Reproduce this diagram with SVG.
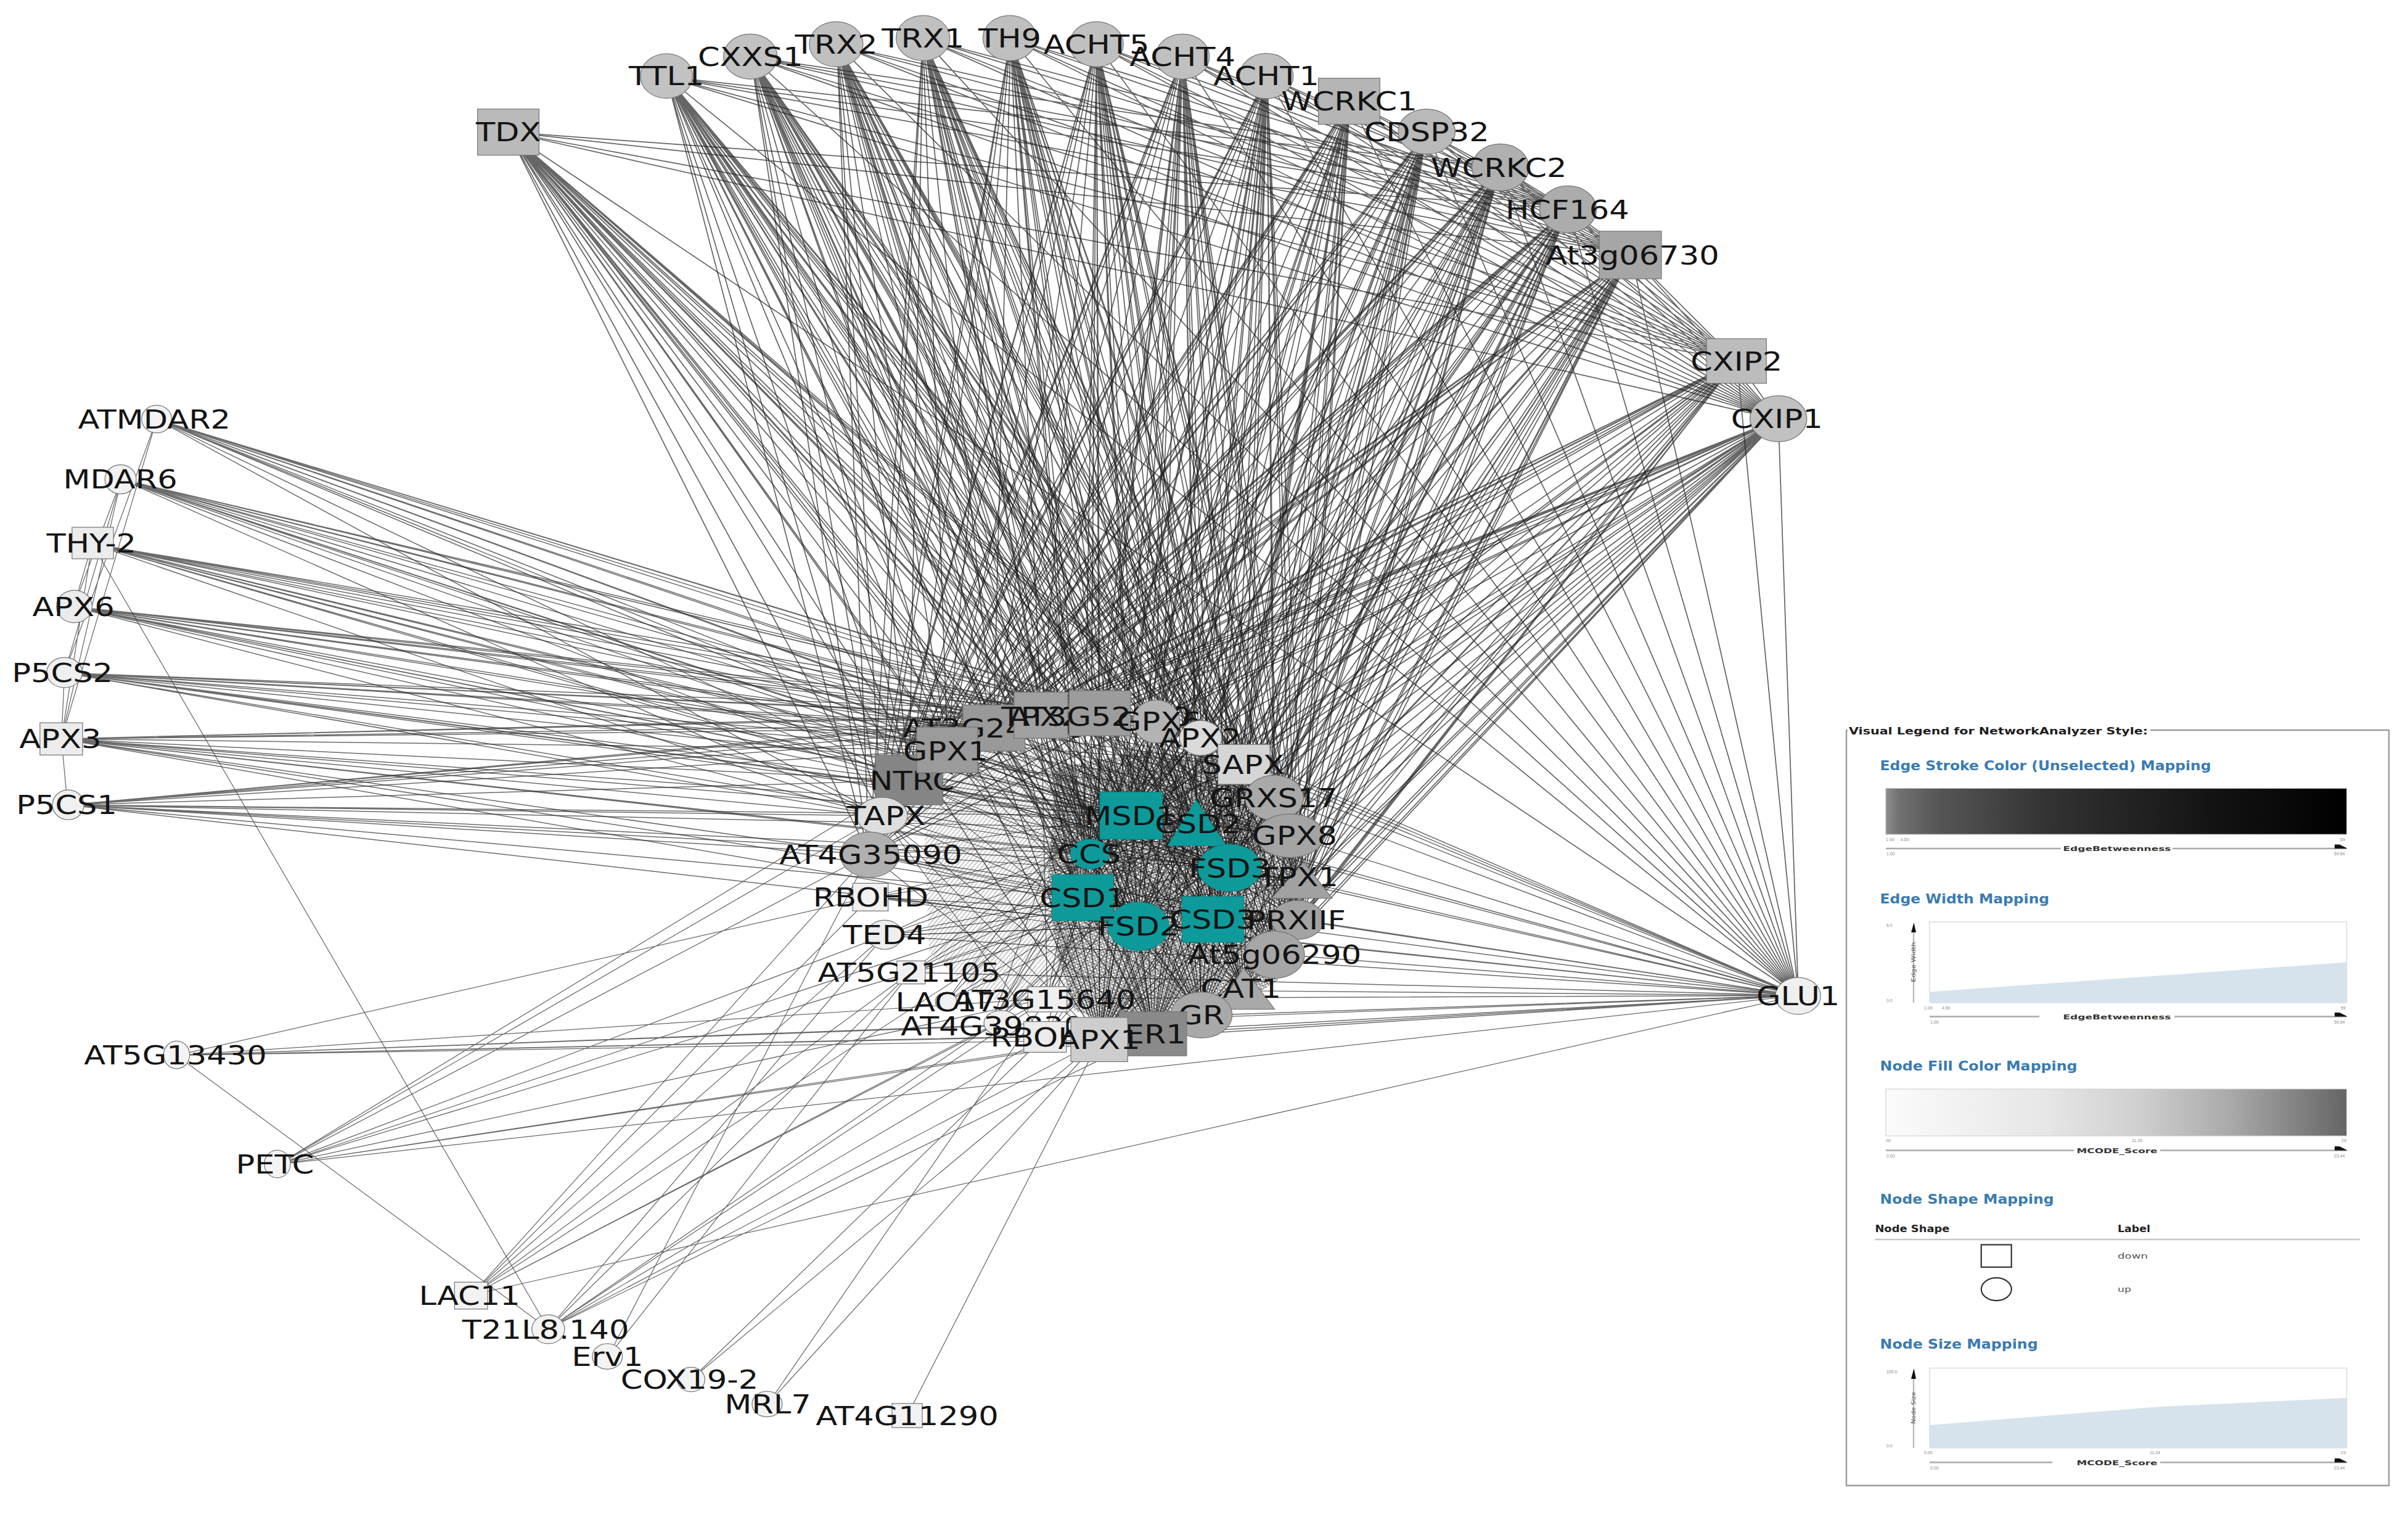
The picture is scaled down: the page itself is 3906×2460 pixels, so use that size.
<svg xmlns="http://www.w3.org/2000/svg" width="3906" height="2460" viewBox="0 0 3906 2460">
<defs>
<style>
.n{stroke:#777;stroke-width:0.5}
.tl{fill:#0e9a9a;stroke:#0a8585;stroke-width:0.4}
.l{font-family:"DejaVu Sans","Liberation Sans",sans-serif;font-size:16.8px;fill:#141414;text-anchor:middle;transform-box:fill-box;transform-origin:center;transform:scaleX(1.22)}
.e1{fill:none;stroke:#1e1e1e;stroke-width:0.7;stroke-opacity:0.68}
.e2{fill:none;stroke:#333;stroke-width:0.6;stroke-opacity:0.72}
.e3{fill:none;stroke:#444;stroke-width:0.5;stroke-opacity:0.8}
.e4{fill:none;stroke:#111;stroke-width:0.45;stroke-opacity:0.7}
.lg{font-family:"DejaVu Sans","Liberation Sans",sans-serif}
.lt{font-family:"DejaVu Sans","Liberation Sans",sans-serif;font-weight:bold;fill:#3a7bb0;font-size:22px}
.lh{font-family:"DejaVu Sans","Liberation Sans",sans-serif;font-weight:bold;fill:#222;font-size:15px}
.ls{font-family:"DejaVu Sans","Liberation Sans",sans-serif;fill:#555;font-size:13px}
.lx{font-family:"DejaVu Sans","Liberation Sans",sans-serif;font-weight:bold;fill:#333;font-size:11px;text-anchor:middle}
.tn{font-family:"Liberation Sans",sans-serif;fill:#888;font-size:7px}
.ax{stroke:#aaa;stroke-width:2.5;fill:none}
</style>
<linearGradient id="gE" x1="0" y1="0" x2="1" y2="0">
<stop offset="0" stop-color="#8e8e8e"/><stop offset="0.03" stop-color="#707070"/><stop offset="0.12" stop-color="#555"/><stop offset="0.35" stop-color="#333"/><stop offset="0.7" stop-color="#141414"/><stop offset="1" stop-color="#000"/>
</linearGradient>
<linearGradient id="gF" x1="0" y1="0" x2="1" y2="0">
<stop offset="0" stop-color="#fbfbfb"/><stop offset="0.35" stop-color="#e6e6e6"/><stop offset="0.55" stop-color="#cfcfcf"/><stop offset="0.75" stop-color="#a9a9a9"/><stop offset="1" stop-color="#656565"/>
</linearGradient>
<pattern id="hx" width="2.4" height="2.4" patternUnits="userSpaceOnUse" patternTransform="rotate(25)"><path d="M0 0L2.4 2.4M2.4 0L0 2.4M0 1.2H2.4" stroke="#141414" stroke-width="0.3" fill="none"/></pattern>
<pattern id="hy" width="2.2" height="2.2" patternUnits="userSpaceOnUse" patternTransform="rotate(-50)"><path d="M0 1.1H2.2" stroke="#2a2a2a" stroke-width="0.3" fill="none"/></pattern>
</defs>
<rect width="3906" height="2460" fill="#fff"/>
<g id="network" transform="scale(2.4911)">
<g id="edges">
<path class="e1" d="M331 86L617 488M331 86L592 508M331 86L647 474M331 86L678 466M331 86L716 464M331 86L751 470M331 86L782 480M331 86L810 498M331 86L830 519M331 86L840 544M331 86L849 574M331 86L845 599M331 86L830 621M331 86L810 645M331 86L782 661M331 86L751 673M331 86L716 677M331 86L574 531M331 86L736 531M331 86L779 540M331 86L801 565M331 86L705 584M331 86L741 603M331 86L790 598M331 86L710 556M331 86L566 556"/>
<path class="e1" d="M434 50L617 488M434 50L592 508M434 50L647 474M434 50L678 466M434 50L716 464M434 50L751 470M434 50L782 480M434 50L810 498M434 50L830 519M434 50L840 544M434 50L849 574M434 50L845 599M434 50L830 621M434 50L810 645M434 50L782 661M434 50L751 673M434 50L716 677M434 50L574 531M434 50L736 531M434 50L779 540M434 50L801 565M434 50L705 584M434 50L741 603M434 50L790 598M434 50L710 556M434 50L566 556"/>
<path class="e1" d="M489 37L617 488M489 37L592 508M489 37L647 474M489 37L678 466M489 37L716 464M489 37L751 470M489 37L782 480M489 37L810 498M489 37L830 519M489 37L840 544M489 37L849 574M489 37L845 599M489 37L830 621M489 37L810 645M489 37L782 661M489 37L751 673M489 37L716 677M489 37L574 531M489 37L736 531M489 37L779 540M489 37L801 565M489 37L705 584M489 37L741 603M489 37L790 598M489 37L710 556M489 37L566 556"/>
<path class="e1" d="M545 29L617 488M545 29L592 508M545 29L647 474M545 29L678 466M545 29L716 464M545 29L751 470M545 29L782 480M545 29L810 498M545 29L830 519M545 29L840 544M545 29L849 574M545 29L845 599M545 29L830 621M545 29L810 645M545 29L782 661M545 29L751 673M545 29L716 677M545 29L574 531M545 29L736 531M545 29L779 540M545 29L801 565M545 29L705 584M545 29L741 603M545 29L790 598M545 29L710 556M545 29L566 556"/>
<path class="e1" d="M601 25L617 488M601 25L592 508M601 25L647 474M601 25L678 466M601 25L716 464M601 25L751 470M601 25L782 480M601 25L810 498M601 25L830 519M601 25L840 544M601 25L849 574M601 25L845 599M601 25L830 621M601 25L810 645M601 25L782 661M601 25L751 673M601 25L716 677M601 25L574 531M601 25L736 531M601 25L779 540M601 25L801 565M601 25L705 584M601 25L741 603M601 25L790 598M601 25L710 556M601 25L566 556"/>
<path class="e1" d="M658 25L617 488M658 25L592 508M658 25L647 474M658 25L678 466M658 25L716 464M658 25L751 470M658 25L782 480M658 25L810 498M658 25L830 519M658 25L840 544M658 25L849 574M658 25L845 599M658 25L830 621M658 25L810 645M658 25L782 661M658 25L751 673M658 25L716 677M658 25L574 531M658 25L736 531M658 25L779 540M658 25L801 565M658 25L705 584M658 25L741 603M658 25L790 598M658 25L710 556M658 25L566 556"/>
<path class="e1" d="M714 29L617 488M714 29L592 508M714 29L647 474M714 29L678 466M714 29L716 464M714 29L751 470M714 29L782 480M714 29L810 498M714 29L830 519M714 29L840 544M714 29L849 574M714 29L845 599M714 29L830 621M714 29L810 645M714 29L782 661M714 29L751 673M714 29L716 677M714 29L574 531M714 29L736 531M714 29L779 540M714 29L801 565M714 29L705 584M714 29L741 603M714 29L790 598M714 29L710 556M714 29L566 556"/>
<path class="e1" d="M770 37L617 488M770 37L592 508M770 37L647 474M770 37L678 466M770 37L716 464M770 37L751 470M770 37L782 480M770 37L810 498M770 37L830 519M770 37L840 544M770 37L849 574M770 37L845 599M770 37L830 621M770 37L810 645M770 37L782 661M770 37L751 673M770 37L716 677M770 37L574 531M770 37L736 531M770 37L779 540M770 37L801 565M770 37L705 584M770 37L741 603M770 37L790 598M770 37L710 556M770 37L566 556"/>
<path class="e1" d="M825 50L617 488M825 50L592 508M825 50L647 474M825 50L678 466M825 50L716 464M825 50L751 470M825 50L782 480M825 50L810 498M825 50L830 519M825 50L840 544M825 50L849 574M825 50L845 599M825 50L830 621M825 50L810 645M825 50L782 661M825 50L751 673M825 50L716 677M825 50L574 531M825 50L736 531M825 50L779 540M825 50L801 565M825 50L705 584M825 50L741 603M825 50L790 598M825 50L710 556M825 50L566 556"/>
<path class="e1" d="M879 66L617 488M879 66L592 508M879 66L647 474M879 66L678 466M879 66L716 464M879 66L751 470M879 66L782 480M879 66L810 498M879 66L830 519M879 66L840 544M879 66L849 574M879 66L845 599M879 66L830 621M879 66L810 645M879 66L782 661M879 66L751 673M879 66L716 677M879 66L574 531M879 66L736 531M879 66L779 540M879 66L801 565M879 66L705 584M879 66L741 603M879 66L790 598M879 66L710 556M879 66L566 556"/>
<path class="e1" d="M929 86L617 488M929 86L592 508M929 86L647 474M929 86L678 466M929 86L716 464M929 86L751 470M929 86L782 480M929 86L810 498M929 86L830 519M929 86L840 544M929 86L849 574M929 86L845 599M929 86L830 621M929 86L810 645M929 86L782 661M929 86L751 673M929 86L716 677M929 86L574 531M929 86L736 531M929 86L779 540M929 86L801 565M929 86L705 584M929 86L741 603M929 86L790 598M929 86L710 556M929 86L566 556"/>
<path class="e1" d="M977 109L617 488M977 109L592 508M977 109L647 474M977 109L678 466M977 109L716 464M977 109L751 470M977 109L782 480M977 109L810 498M977 109L830 519M977 109L840 544M977 109L849 574M977 109L845 599M977 109L830 621M977 109L810 645M977 109L782 661M977 109L751 673M977 109L716 677M977 109L574 531M977 109L736 531M977 109L779 540M977 109L801 565M977 109L705 584M977 109L741 603M977 109L790 598M977 109L710 556M977 109L566 556"/>
<path class="e1" d="M1021 136L617 488M1021 136L592 508M1021 136L647 474M1021 136L678 466M1021 136L716 464M1021 136L751 470M1021 136L782 480M1021 136L810 498M1021 136L830 519M1021 136L840 544M1021 136L849 574M1021 136L845 599M1021 136L830 621M1021 136L810 645M1021 136L782 661M1021 136L751 673M1021 136L716 677M1021 136L574 531M1021 136L736 531M1021 136L779 540M1021 136L801 565M1021 136L705 584M1021 136L741 603M1021 136L790 598M1021 136L710 556M1021 136L566 556"/>
<path class="e1" d="M1062 166L617 488M1062 166L592 508M1062 166L647 474M1062 166L678 466M1062 166L716 464M1062 166L751 470M1062 166L782 480M1062 166L810 498M1062 166L830 519M1062 166L840 544M1062 166L849 574M1062 166L845 599M1062 166L830 621M1062 166L810 645M1062 166L782 661M1062 166L751 673M1062 166L716 677M1062 166L574 531M1062 166L736 531M1062 166L779 540M1062 166L801 565M1062 166L705 584M1062 166L741 603M1062 166L790 598M1062 166L710 556M1062 166L566 556"/>
<path class="e1" d="M1131 235L617 488M1131 235L592 508M1131 235L647 474M1131 235L678 466M1131 235L716 464M1131 235L751 470M1131 235L782 480M1131 235L810 498M1131 235L830 519M1131 235L840 544M1131 235L849 574M1131 235L845 599M1131 235L830 621M1131 235L810 645M1131 235L782 661M1131 235L751 673M1131 235L716 677M1131 235L574 531M1131 235L736 531M1131 235L779 540M1131 235L801 565M1131 235L705 584M1131 235L741 603M1131 235L790 598M1131 235L710 556M1131 235L566 556"/>
<path class="e1" d="M1158 273L617 488M1158 273L592 508M1158 273L647 474M1158 273L678 466M1158 273L716 464M1158 273L751 470M1158 273L782 480M1158 273L810 498M1158 273L830 519M1158 273L840 544M1158 273L849 574M1158 273L845 599M1158 273L830 621M1158 273L810 645M1158 273L782 661M1158 273L751 673M1158 273L716 677M1158 273L574 531M1158 273L736 531M1158 273L779 540M1158 273L801 565M1158 273L705 584M1158 273L741 603M1158 273L790 598M1158 273L710 556M1158 273L566 556"/>
<path class="e1" d="M331 86L1171 648M331 86L1131 235M331 86L1158 273M331 86L1062 166M331 86L1021 136M434 50L1171 648M434 50L1131 235M434 50L1158 273M434 50L1062 166M434 50L1021 136M434 50L977 109M489 37L1171 648M489 37L1131 235M489 37L1158 273M489 37L1062 166M489 37L1021 136M489 37L977 109M545 29L1171 648M545 29L1131 235M545 29L1158 273M545 29L1062 166M545 29L1021 136M601 25L1171 648M601 25L1131 235M601 25L1158 273M601 25L1062 166M601 25L1021 136M658 25L1171 648M658 25L1131 235M658 25L1158 273M658 25L1062 166M658 25L1021 136M714 29L1171 648M714 29L1131 235M714 29L1158 273M714 29L1062 166M714 29L1021 136M770 37L1171 648M770 37L1131 235M770 37L1158 273M770 37L1062 166M770 37L1021 136M825 50L1171 648M825 50L1131 235M825 50L1158 273M825 50L1062 166M825 50L1021 136M879 66L1171 648M879 66L1131 235M879 66L1158 273M879 66L1062 166M879 66L1021 136M929 86L1171 648M929 86L1131 235M929 86L1158 273M929 86L1062 166M929 86L1021 136M977 109L1171 648M977 109L1131 235M977 109L1158 273M977 109L1062 166M977 109L1021 136M1021 136L1171 648M1021 136L1131 235M1021 136L1158 273M1021 136L1062 166M1062 166L1171 648M1062 166L1131 235M1062 166L1158 273M1131 235L1171 648M1131 235L1158 273M1158 273L1171 648"/>
<path class="e2" d="M102 273L617 488M102 273L592 508M102 273L647 474M102 273L678 466M102 273L716 464M102 273L751 470M102 273L782 480M102 273L810 498M102 273L830 519M102 273L840 544M102 273L736 531M102 273L779 540M102 273L574 531M102 273L801 565"/>
<path class="e2" d="M79 312L617 488M79 312L592 508M79 312L647 474M79 312L678 466M79 312L716 464M79 312L751 470M79 312L782 480M79 312L810 498M79 312L830 519M79 312L840 544M79 312L736 531M79 312L779 540M79 312L574 531M79 312L801 565"/>
<path class="e2" d="M60 354L617 488M60 354L592 508M60 354L647 474M60 354L678 466M60 354L716 464M60 354L751 470M60 354L782 480M60 354L810 498M60 354L830 519M60 354L840 544M60 354L736 531M60 354L779 540M60 354L574 531M60 354L801 565"/>
<path class="e2" d="M48 395L617 488M48 395L592 508M48 395L647 474M48 395L678 466M48 395L716 464M48 395L751 470M48 395L782 480M48 395L810 498M48 395L830 519M48 395L840 544M48 395L736 531M48 395L779 540M48 395L574 531M48 395L801 565"/>
<path class="e2" d="M42 438L617 488M42 438L592 508M42 438L647 474M42 438L678 466M42 438L716 464M42 438L751 470M42 438L782 480M42 438L810 498M42 438L830 519M42 438L840 544M42 438L736 531M42 438L779 540M42 438L574 531M42 438L801 565"/>
<path class="e2" d="M40 481L617 488M40 481L592 508M40 481L647 474M40 481L678 466M40 481L716 464M40 481L751 470M40 481L736 531M40 481L779 540M40 481L574 531M40 481L566 556M40 481L705 584M40 481L710 556M40 481L801 565M40 481L741 603"/>
<path class="e2" d="M44 524L617 488M44 524L592 508M44 524L647 474M44 524L678 466M44 524L716 464M44 524L751 470M44 524L736 531M44 524L779 540M44 524L574 531M44 524L566 556M44 524L705 584M44 524L710 556M44 524L801 565M44 524L741 603"/>
<path class="e2" d="M1171 648L810 498M1171 648L830 519M1171 648L840 544M1171 648L849 574M1171 648L845 599M1171 648L830 621M1171 648L810 645M1171 648L782 661M1171 648L751 673M1171 648L716 677M1171 648L680 675M1171 648L801 565M1171 648L790 598M1171 648L741 603M1171 648L779 540M1171 648L782 480M1171 648L751 470M1171 648L682 650M1171 648L566 556M1171 648L576 609M1171 648L593 633M1171 648L567 584M1171 648L716 464M1171 648L736 531"/>
<path class="e3" d="M102 273L40 481M102 273L42 438M79 312L40 481M79 312L42 438M60 354L48 395M60 354L40 481M42 438L40 481M40 481L44 524M48 395L79 312M60 354L357 865M115 687L357 865"/>
<path class="e3" d="M181 758L592 508M181 758L566 556M181 758L574 531M181 758L576 609M181 758L593 633M181 758L682 650M181 758L716 677M181 758L705 584M181 758L1171 648M181 758L751 673M115 687L680 675M115 687L716 677M115 687L751 673M115 687L645 668M115 687L682 650M115 687L567 584M115 687L1171 648"/>
<path class="e3" d="M307 843L576 609M307 843L593 633M307 843L566 556M307 843L567 584M307 843L682 650M307 843L705 584M307 843L1171 648M307 843L645 668M357 865L682 650M357 865L680 675M357 865L716 677M357 865L645 668M357 865L593 633M357 865L576 609M357 865L751 673M396 883L593 633M396 883L566 556M450 898L716 677M450 898L680 675M500 914L682 650M500 914L716 677M591 921L716 677"/>
<path class="e4" d="M617 488L840 544L592 508L849 574L647 474L845 599L678 466L830 621L716 464L810 645L751 470L782 661L782 480L751 673L810 498L716 677L830 519L680 675L574 531L849 574L566 556L840 544L567 584L830 519L576 609L810 498L593 633L782 480L616 652L751 470L645 668L716 464L682 650L678 466"/>
<path class="e4" d="M736 531L790 598L705 584L779 540L741 603L801 565L710 556L790 598M736 531L741 603M779 540L705 584M801 565L736 531L710 556L779 540L617 488L801 565L592 508L790 598L647 474L741 603L678 466L705 584L830 519L710 556L840 544L736 531L845 599L705 584L810 645L779 540L782 661L710 556L751 673L801 565L716 677L736 531L566 556L790 598L574 531L741 603L576 609L801 565L593 633L779 540L645 668L736 531"/>
<path class="e4" d="M592 508L782 661L617 488L810 645L647 474L751 673L574 531L716 677L566 556L830 621L567 584L845 599L576 609L849 574L593 633L840 544L616 652L830 519L645 668L810 498L680 675L782 480L682 650L751 470L716 677L716 464L751 673L678 466L782 661L647 474L810 645L617 488L830 621"/>
<path class="e4" d="M736 531L751 470M736 531L782 480M736 531L810 498M736 531L678 466M779 540L716 464M779 540L751 470M779 540L810 498M801 565L830 519M801 565L840 544M801 565L849 574M790 598L845 599M790 598L830 621M790 598L810 645M741 603L782 661M741 603L751 673M741 603L716 677M705 584L680 675M705 584L682 650M710 556L645 668M705 584L566 556M710 556L592 508"/>
<path d="M688 500L750 488L805 500L838 535L850 590L832 638L795 662L740 670L700 658L688 620L682 575Z" fill="url(#hx)" opacity="0.85"/>
<path d="M600 495L700 480L700 655L640 650L605 620Z" fill="url(#hy)" opacity="0.65"/>
</g>
<g id="n-TDX"><rect class="n" x="311" y="71" width="40" height="30" fill="#bababa"/><text class="l" x="331" y="92.1">TDX</text></g>
<g id="n-TTL1"><ellipse class="n" cx="434" cy="49.5" rx="17" ry="14.5" fill="#c2c2c2"/><text class="l" x="434" y="55.6">TTL1</text></g>
<g id="n-CXXS1"><ellipse class="n" cx="488.6" cy="36.8" rx="17.5" ry="14.7" fill="#c2c2c2"/><text class="l" x="488.6" y="42.9">CXXS1</text></g>
<g id="n-TRX2"><ellipse class="n" cx="544.5" cy="28.8" rx="17.5" ry="14.7" fill="#c0c0c0"/><text class="l" x="544.5" y="34.9">TRX2</text></g>
<g id="n-TRX1"><ellipse class="n" cx="601" cy="24.8" rx="17.5" ry="14.7" fill="#c0c0c0"/><text class="l" x="601" y="30.9">TRX1</text></g>
<g id="n-TH9"><ellipse class="n" cx="657.5" cy="24.8" rx="17.5" ry="14.7" fill="#bfbfbf"/><text class="l" x="657.5" y="30.9">TH9</text></g>
<g id="n-ACHT5"><ellipse class="n" cx="714" cy="28.8" rx="17.5" ry="14.7" fill="#c0c0c0"/><text class="l" x="714" y="34.9">ACHT5</text></g>
<g id="n-ACHT4"><ellipse class="n" cx="770" cy="36.8" rx="17.5" ry="14.7" fill="#c0c0c0"/><text class="l" x="770" y="42.9">ACHT4</text></g>
<g id="n-ACHT1"><ellipse class="n" cx="824.6" cy="49.5" rx="17.5" ry="14.7" fill="#c0c0c0"/><text class="l" x="824.6" y="55.6">ACHT1</text></g>
<g id="n-WCRKC1"><rect class="n" x="858.5" y="50.9" width="40" height="30" fill="#b5b5b5"/><text class="l" x="878.5" y="72">WCRKC1</text></g>
<g id="n-CDSP32"><ellipse class="n" cx="929" cy="85.7" rx="18.5" ry="14.7" fill="#b9b9b9"/><text class="l" x="929" y="91.8">CDSP32</text></g>
<g id="n-WCRKC2"><ellipse class="n" cx="977" cy="109" rx="18.5" ry="15.3" fill="#b0b0b0"/><text class="l" x="976" y="115.1">WCRKC2</text></g>
<g id="n-HCF164"><ellipse class="n" cx="1021" cy="136.3" rx="18.5" ry="15.3" fill="#acacac"/><text class="l" x="1020.6" y="142.4">HCF164</text></g>
<g id="n-At3g06730"><rect class="n" x="1041.35" y="150.5" width="40.5" height="31" fill="#a6a6a6"/><text class="l" x="1063" y="172.1">At3g06730</text></g>
<g id="n-CXIP2"><rect class="n" x="1111.2" y="220.5" width="39" height="29" fill="#bcbcbc"/><text class="l" x="1130.7" y="241.1">CXIP2</text></g>
<g id="n-CXIP1"><ellipse class="n" cx="1158" cy="272.6" rx="18.5" ry="15" fill="#c1c1c1"/><text class="l" x="1157" y="278.7">CXIP1</text></g>
<g id="n-GLU1"><ellipse class="n" cx="1170.8" cy="648.3" rx="14.7" ry="12" fill="#efefef"/><text class="l" x="1170.8" y="654.4">GLU1</text></g>
<g id="n-ATMDAR2"><ellipse class="n" cx="102" cy="272.8" rx="9.8" ry="9" fill="#f3f3f3"/><text class="l" x="100.5" y="278.9">ATMDAR2</text></g>
<g id="n-MDAR6"><ellipse class="n" cx="78.5" cy="312" rx="10.2" ry="9.5" fill="#f1f1f1"/><text class="l" x="78.3" y="318.1">MDAR6</text></g>
<g id="n-THY-2"><rect class="n" x="46.9" y="343.25" width="27" height="20.5" fill="#ececec"/><text class="l" x="59.5" y="359.6">THY-2</text></g>
<g id="n-APX6"><ellipse class="n" cx="48.4" cy="394.8" rx="11.6" ry="10.6" fill="#ebebeb"/><text class="l" x="47.8" y="400.9">APX6</text></g>
<g id="n-P5CS2"><ellipse class="n" cx="42" cy="437.8" rx="11.6" ry="9.8" fill="#efefef"/><text class="l" x="40.6" y="443.9">P5CS2</text></g>
<g id="n-APX3"><rect class="n" x="26" y="470.5" width="27.8" height="21" fill="#ececec"/><text class="l" x="39.3" y="487.1">APX3</text></g>
<g id="n-P5CS1"><ellipse class="n" cx="44.4" cy="523.9" rx="10.3" ry="9.7" fill="#f0f0f0"/><text class="l" x="43.4" y="530">P5CS1</text></g>
<g id="n-AT5G13430"><ellipse class="n" cx="115" cy="686.7" rx="8.5" ry="9" fill="#f4f4f4"/><text class="l" x="114.2" y="692.8">AT5G13430</text></g>
<g id="n-PETC"><ellipse class="n" cx="180.6" cy="757.7" rx="8.5" ry="9" fill="#f4f4f4"/><text class="l" x="179" y="763.8">PETC</text></g>
<g id="n-LAC11"><rect class="n" x="296" y="834.65" width="21.5" height="17.5" fill="#f2f2f2"/><text class="l" x="305.7" y="849.5">LAC11</text></g>
<g id="n-T21L8_140"><ellipse class="n" cx="357" cy="865.3" rx="10.7" ry="9.4" fill="#f3f3f3"/><text class="l" x="355.3" y="871.4">T21L8.140</text></g>
<g id="n-Erv1"><ellipse class="n" cx="395.5" cy="883" rx="9.8" ry="8.3" fill="#f3f3f3"/><text class="l" x="395.5" y="889.1">Erv1</text></g>
<g id="n-COX19-2"><ellipse class="n" cx="450" cy="898" rx="9" ry="8" fill="#f3f3f3"/><text class="l" x="449" y="904.1">COX19-2</text></g>
<g id="n-MRL7"><ellipse class="n" cx="499.5" cy="914" rx="9.8" ry="8.3" fill="#f3f3f3"/><text class="l" x="500" y="920.1">MRL7</text></g>
<g id="n-AT4G11290"><rect class="n" x="580.85" y="913.65" width="19.7" height="15.7" fill="#f2f2f2"/><text class="l" x="590.7" y="927.6">AT4G11290</text></g>
<g id="n-AT3G24170"><rect class="n" x="627" y="458.9" width="40.5" height="30" fill="#999"/><text class="l" x="647.3" y="480">AT3G24170</text></g>
<g id="n-NTRC"><rect class="n" x="570.1" y="491.45" width="43.8" height="32.5" fill="#858585"/><text class="l" x="593.8" y="514.1">NTRC</text></g>
<g id="n-GPX1"><rect class="n" x="596.95" y="473.35" width="39.7" height="29.7" fill="#9b9b9b"/><text class="l" x="615.7" y="495">GPX1</text></g>
<g id="n-TAPX"><ellipse class="n" cx="574.3" cy="531" rx="16.6" ry="12" fill="#dedede"/><text class="l" x="577" y="537.1">TAPX</text></g>
<g id="n-AT4G35090"><ellipse class="n" cx="566.3" cy="556.4" rx="19" ry="14.8" fill="#b0b0b0"/><text class="l" x="567" y="562.5">AT4G35090</text></g>
<g id="n-RBOHD"><rect class="n" x="555.3" y="575" width="23" height="18" fill="#f1f1f1"/><text class="l" x="567" y="590.1">RBOHD</text></g>
<g id="n-TED4"><ellipse class="n" cx="576" cy="608.5" rx="11.5" ry="9.5" fill="#eee"/><text class="l" x="576" y="614.6">TED4</text></g>
<g id="n-AT5G21105"><rect class="n" x="584" y="625.5" width="18.5" height="15" fill="#f0f0f0"/><text class="l" x="592" y="639.1">AT5G21105</text></g>
<g id="n-LAC17"><ellipse class="n" cx="616" cy="652" rx="7" ry="6" fill="#f0f0f0"/><text class="l" x="616" y="658.2">LAC17</text></g>
<g id="n-AT4G39830"><ellipse class="n" cx="652" cy="666" rx="11.3" ry="8.2" fill="#eee"/><text class="l" x="646" y="674">AT4G39830</text></g>
<g id="n-AT3G15640"><rect class="n" x="669.25" y="642.25" width="25.5" height="16.5" fill="#efefef"/><text class="l" x="680" y="656.6">AT3G15640</text></g>
<g id="n-RBOHF"><rect class="n" x="666.65" y="665" width="27.7" height="20" fill="#ebebeb"/><text class="l" x="680.5" y="681.1">RBOHF</text></g>
<g id="n-TPX2"><rect class="n" x="660.3" y="450.6" width="35" height="30" fill="#a0a0a0"/><text class="l" x="678" y="472.4">TPX2</text></g>
<g id="n-AT3G52960"><rect class="n" x="696.2" y="449.6" width="40" height="29.4" fill="#9c9c9c"/><text class="l" x="716.2" y="472.4">AT3G52960</text></g>
<g id="n-GPX6"><ellipse class="n" cx="753" cy="469.7" rx="15.3" ry="14" fill="#b3b3b3"/><text class="l" x="755" y="475.8">GPX6</text></g>
<g id="n-APX2"><ellipse class="n" cx="781.8" cy="480.4" rx="13.8" ry="11.4" fill="#dadada"/><text class="l" x="781.5" y="486.5">APX2</text></g>
<g id="n-SAPX"><rect class="n" x="793" y="484.6" width="34" height="26" fill="#d5d5d5"/><text class="l" x="809.5" y="503.7">SAPX</text></g>
<g id="n-GRXS17"><ellipse class="n" cx="829.8" cy="519.3" rx="19" ry="14.7" fill="#a9a9a9"/><text class="l" x="829.4" y="525.4">GRXS17</text></g>
<g id="n-GPX8"><ellipse class="n" cx="840" cy="544" rx="21.9" ry="14.2" fill="#a4a4a4"/><text class="l" x="843" y="550.1">GPX8</text></g>
<g id="n-TPX1"><polygon class="n" points="849,561.4 867.5,584.7 828,584.7" fill="#a1a1a1"/><text class="l" x="845.5" y="576.8">TPX1</text></g>
<g id="n-PRXIIF"><ellipse class="n" cx="845" cy="598.8" rx="17" ry="12.7" fill="#a3a3a3"/><text class="l" x="844" y="604.9">PRXIIF</text></g>
<g id="n-At5g06290"><ellipse class="n" cx="830" cy="621.5" rx="19.4" ry="15.4" fill="#a6a6a6"/><text class="l" x="830" y="627.6">At5g06290</text></g>
<g id="n-CAT1"><polygon class="n" points="809.7,630 830,657 793,657" fill="#a9a9a9"/><text class="l" x="808" y="649.7">CAT1</text></g>
<g id="n-GR"><ellipse class="n" cx="782.3" cy="660.7" rx="20" ry="15" fill="#a9a9a9"/><text class="l" x="782.3" y="666.8">GR</text></g>
<g id="n-PER1"><rect class="n" x="728.9" y="658.7" width="43.8" height="28.6" fill="#8a8a8a"/><text class="l" x="746" y="679.1">PER1</text></g>
<g id="n-APX1"><rect class="n" x="697.3" y="662.3" width="37" height="28.8" fill="#cdcdcd"/><text class="l" x="715.8" y="682.8">APX1</text></g>
<g id="n-CCS"><ellipse class="tl" cx="709.7" cy="556" rx="12.7" ry="9.7"/><text class="l" x="709" y="562.1">CCS</text></g>
<g id="n-MSD1"><rect class="tl" x="716.15" y="515.65" width="40.7" height="30.7"/><text class="l" x="736" y="537.1">MSD1</text></g>
<g id="n-CSD2"><polygon class="tl" points="778.8,520.7 798.5,550.6 760.3,550.6"/><text class="l" x="780" y="542.4">CSD2</text></g>
<g id="n-FSD3"><ellipse class="tl" cx="800.7" cy="565" rx="20.7" ry="15.4"/><text class="l" x="800.7" y="571.1">FSD3</text></g>
<g id="n-CSD1"><rect class="tl" x="685" y="569.3" width="40" height="30"/><text class="l" x="705" y="590.4">CSD1</text></g>
<g id="n-FSD2"><ellipse class="tl" cx="741.4" cy="603" rx="20" ry="15.8"/><text class="l" x="741.4" y="609.1">FSD2</text></g>
<g id="n-CSD3"><rect class="tl" x="769.6" y="583.6" width="40.2" height="29.8"/><text class="l" x="789.7" y="604.6">CSD3</text></g>
</g>
<g id="legend">
<path d="M2995 1184V2409H3875V1184H3488M2995 1184H2997" fill="none" stroke="#9d9d9d" stroke-width="2.5"/>
<text class="lg" x="2999" y="1190.5" font-size="16" font-weight="bold" fill="#1e1e1e" textLength="485" lengthAdjust="spacingAndGlyphs">Visual Legend for NetworkAnalyzer Style:</text>
<text class="lt" x="3049.6" y="1249" textLength="537" lengthAdjust="spacingAndGlyphs">Edge Stroke Color (Unselected) Mapping</text>
<rect x="3059" y="1278.5" width="747.6" height="74.5" fill="url(#gE)" stroke="#bbb" stroke-width="1"/>
<text class="tn" x="3059" y="1364">1.00</text><text class="tn" x="3083" y="1364">4.50</text><text class="tn" x="3796" y="1364">59</text>
<path class="ax" d="M3059 1376H3343M3524 1376H3806"/>
<text class="lx" x="3434" y="1380" textLength="175" lengthAdjust="spacingAndGlyphs">EdgeBetweenness</text>
<polygon points="3787,1369.5 3795,1369.5 3808,1376 3787,1376" fill="#111"/>
<text class="tn" x="3060" y="1387">1.00</text><text class="tn" x="3786" y="1387">59.54</text>
<text class="lt" x="3049.6" y="1465" textLength="274.5" lengthAdjust="spacingAndGlyphs">Edge Width Mapping</text>
<rect x="3130" y="1495" width="676.6" height="131" fill="#fff" stroke="#ddd" stroke-width="1.5"/>
<polygon points="3130,1608.4 3806.6,1560.6 3806.6,1626 3130,1626" fill="#d6e3ec"/>
<path d="M3104 1506V1626" stroke="#bbb" stroke-width="2.5"/>
<polygon points="3100,1512 3104.5,1496 3108,1512" fill="#111"/>
<text class="lg" transform="translate(3107,1560) rotate(-90)" text-anchor="middle" font-size="9" fill="#555" textLength="65" lengthAdjust="spacingAndGlyphs">Edge Width</text>
<text class="tn" x="3060" y="1503">6.0</text><text class="tn" x="3060" y="1625">0.0</text>
<text class="tn" x="3121" y="1637">1.00</text><text class="tn" x="3150" y="1637">4.50</text><text class="tn" x="3797" y="1637">59</text>
<path class="ax" d="M3130 1648.6H3308M3527 1648.6H3806"/>
<text class="lx" x="3434" y="1653" textLength="175" lengthAdjust="spacingAndGlyphs">EdgeBetweenness</text>
<polygon points="3787,1642 3795,1642 3808,1648.6 3787,1648.6" fill="#111"/>
<text class="tn" x="3131" y="1660">1.00</text><text class="tn" x="3786" y="1660">59.54</text>
<text class="lt" x="3049.6" y="1736" textLength="320" lengthAdjust="spacingAndGlyphs">Node Fill Color Mapping</text>
<rect x="3059" y="1766" width="747.6" height="76" fill="url(#gF)" stroke="#ccc" stroke-width="1"/>
<text class="tn" x="3059" y="1852">00</text><text class="tn" x="3458" y="1852">11.29</text><text class="tn" x="3798" y="1852">29</text>
<path class="ax" d="M3059 1865.5H3364M3504 1865.5H3806"/>
<text class="lx" x="3434" y="1870" textLength="131" lengthAdjust="spacingAndGlyphs">MCODE_Score</text>
<polygon points="3787,1859 3795,1859 3808,1865.5 3787,1865.5" fill="#111"/>
<text class="tn" x="3060" y="1877">0.00</text><text class="tn" x="3786" y="1877">23.44</text>
<text class="lt" x="3049.6" y="1952" textLength="282" lengthAdjust="spacingAndGlyphs">Node Shape Mapping</text>
<text class="lh" x="3041.4" y="1998" textLength="121" lengthAdjust="spacingAndGlyphs">Node Shape</text>
<text class="lh" x="3435" y="1998" textLength="53" lengthAdjust="spacingAndGlyphs">Label</text>
<path d="M3041 2010H3828" stroke="#c8c8c8" stroke-width="2.5"/>
<rect x="3213.7" y="2018.5" width="49" height="36.3" fill="none" stroke="#333" stroke-width="2.2"/>
<text class="ls" x="3435" y="2041" textLength="49" lengthAdjust="spacingAndGlyphs">down</text>
<ellipse cx="3238.3" cy="2090.6" rx="24.5" ry="18.5" fill="none" stroke="#333" stroke-width="2.2"/>
<text class="ls" x="3435" y="2095" textLength="22" lengthAdjust="spacingAndGlyphs">up</text>
<text class="lt" x="3049.6" y="2187" textLength="256" lengthAdjust="spacingAndGlyphs">Node Size Mapping</text>
<rect x="3130" y="2218.5" width="676.6" height="129.5" fill="#fff" stroke="#ddd" stroke-width="1.5"/>
<polygon points="3130,2311 3498,2281.5 3806.6,2266.7 3806.6,2348 3130,2348" fill="#d6e3ec"/>
<path d="M3104 2230V2348" stroke="#bbb" stroke-width="2.5"/>
<polygon points="3100,2236 3104.5,2219 3108,2236" fill="#111"/>
<text class="lg" transform="translate(3107,2283) rotate(-90)" text-anchor="middle" font-size="9" fill="#555" textLength="52" lengthAdjust="spacingAndGlyphs">Node Size</text>
<text class="tn" x="3060" y="2227">100.0</text><text class="tn" x="3060" y="2347">0.0</text>
<text class="tn" x="3121" y="2358">0.00</text><text class="tn" x="3487" y="2358">11.24</text><text class="tn" x="3797" y="2358">23</text>
<path class="ax" d="M3130 2371.5H3329M3504 2371.5H3806"/>
<text class="lx" x="3434" y="2376" textLength="131" lengthAdjust="spacingAndGlyphs">MCODE_Score</text>
<polygon points="3787,2365 3795,2365 3808,2371.5 3787,2371.5" fill="#111"/>
<text class="tn" x="3131" y="2383">0.00</text><text class="tn" x="3786" y="2383">23.44</text>
</g>
</svg>
